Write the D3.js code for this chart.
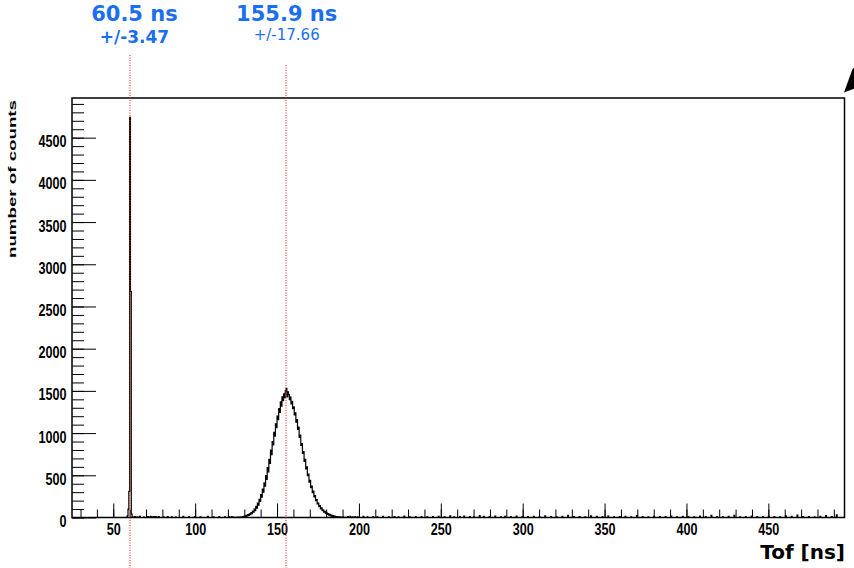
<!DOCTYPE html>
<html>
<head>
<meta charset="utf-8">
<script src="https://cdn.jsdelivr.net/npm/d3@7"></script>
<style>
  html, body { margin: 0; padding: 0; background: #fff; }
  svg { display: block; }
</style>
</head>
<body>
<svg id="chart" width="854" height="568"></svg>
<script>
// histogram binning (ns)
const binWidth = 0.5;
const histStart = 24.5;
const histEnd = 496.5;

// narrow prompt peak around 60 ns
const spikeStart = 58.0;
const spikeCounts = [3, 20, 100, 310, 4740, 2680, 40, 8, 3];

// broad peak, bins of 0.5 ns starting at 124 ns
const peakStart = 124.0;
const peakCounts = [
  1, 0, 3, 1, 4, 2, 6, 3, 9, 5, 12, 8, 17, 11, 24, 16, 33, 24, 44, 35,
  58, 46, 76, 62, 99, 82, 132, 110, 170, 146, 215, 190, 270, 240, 335, 300, 410, 372, 495, 450,
  590, 540, 690, 640, 800, 745, 900, 860, 1010, 965, 1110, 1065, 1200, 1160, 1290, 1245, 1370, 1320, 1430, 1385,
  1465, 1420, 1500, 1530, 1430, 1490, 1455, 1395, 1425, 1345, 1375, 1290, 1310, 1215, 1240, 1130, 1160, 1045, 1070, 950,
  975, 855, 875, 760, 780, 665, 690, 575, 600, 495, 515, 420, 440, 355, 372, 295, 312, 245, 260, 200,
  212, 160, 172, 128, 140, 102, 114, 80, 92, 62, 74, 48, 58, 38, 46, 28, 36, 20, 28, 14,
  22, 10, 16, 8, 12, 5, 9, 4, 7, 3, 5, 2, 4, 1, 2, 1
];

// sparse background counts
const noiseTimes = [
  63.0, 64.5, 66.0, 68.5, 71.0, 72.5, 73.5, 74.5, 75.5, 76.0, 77.5, 80.5, 83.0, 85.5, 88.0, 92.5,
  96.0, 99.5, 103.0, 107.5, 111.0, 114.5, 118.0, 120.5, 122.0, 123.0,
  193.0, 194.5, 196.0, 197.5, 199.0, 202.5, 205.0, 208.5, 211.0, 214.5, 218.0, 221.5, 224.0, 227.5,
  231.0, 234.5, 238.0, 241.5, 245.0, 248.5, 252.0, 255.5, 258.0, 261.5, 264.0, 267.5, 270.0, 273.5,
  276.0, 279.5, 283.0, 286.5, 289.0, 292.5, 296.0, 299.5, 303.0, 306.5, 310.0, 313.5, 317.0, 320.5,
  324.0, 327.5, 331.0, 334.5, 338.0, 341.5, 345.0, 348.5, 352.0, 355.5, 359.0, 362.5, 366.0, 369.5,
  373.0, 376.5, 380.0, 383.5, 387.0, 390.5, 394.0, 397.5, 401.0, 404.5, 408.0, 411.5, 415.0, 418.5,
  422.0, 425.5, 429.0, 432.5, 436.0, 439.5, 443.0, 446.5, 450.0, 453.5, 457.0, 460.5, 464.0, 467.5,
  471.0, 474.5, 478.0, 481.5, 485.0, 488.5, 491.5
];
const noiseCounts = [
  12, 8, 15, 6, 10, 14, 9, 12, 11, 8, 10, 7, 12, 9, 6, 14,
  9, 11, 8, 13, 7, 10, 9, 8, 10, 6,
  10, 14, 8, 12, 9, 15, 8, 11, 7, 13, 9, 10, 8, 16,
  7, 10, 12, 8, 11, 14, 9, 20, 8, 12, 18, 10, 9, 22,
  14, 11, 16, 9, 13, 10, 18, 9, 12, 15, 8, 20, 11, 9,
  14, 26, 10, 12, 8, 19, 13, 10, 17, 9, 12, 14, 8, 22,
  11, 9, 15, 12, 10, 18, 8, 13, 11, 9, 16, 12, 24, 10,
  8, 14, 26, 9, 12, 18, 10, 8, 13, 11, 9, 20, 15, 28,
  10, 12, 9, 14, 22, 11, 30
];

// axes
const xTickMajor = [50, 100, 150, 200, 250, 300, 350, 400, 450];
const yTickMajor = [0, 500, 1000, 1500, 2000, 2500, 3000, 3500, 4000, 4500];
const xLabel = "Tof [ns]";
const yLabel = "number of counts";

// fitted peak positions
const fitMeans = [60.5, 155.9];
const fitErrors = ["3.47", "17.66"];

const svg = d3.select("#chart");
const frame = { left: 72, right: 844.5, top: 98, bottom: 517.5 };

const x = d3.scaleLinear().domain([24.8, 496.5]).range([frame.left, frame.right]);
const y = d3.scaleLinear().domain([0, 4970]).range([frame.bottom, frame.top]);

// build full histogram
const nBins = Math.round((histEnd - histStart) / binWidth);
const counts = new Array(nBins).fill(0);
const setBin = (t, c) => {
  const i = Math.round((t - histStart) / binWidth);
  if (i >= 0 && i < nBins) counts[i] = c;
};
spikeCounts.forEach((c, i) => setBin(spikeStart + i * binWidth, c));
peakCounts.forEach((c, i) => setBin(peakStart + i * binWidth, c));
noiseTimes.forEach((t, i) => setBin(t, noiseCounts[i]));

const pts = [[histStart, 0]];
counts.forEach((c, i) => pts.push([histStart + i * binWidth, c]));
pts.push([histEnd, counts[nBins - 1]]);
pts.push([histEnd, 0]);

svg.append("clipPath").attr("id", "clip")
  .append("rect")
  .attr("x", frame.left).attr("y", frame.top)
  .attr("width", frame.right - frame.left)
  .attr("height", frame.bottom - frame.top);

// ticks (inward, ROOT style)
const tickFont = "'Liberation Sans', Arial, sans-serif";
const DIGIT_W = 7; // narrow helvetica digits

const yMinor = svg.append("g")
  .attr("transform", `translate(${frame.left},0)`)
  .call(d3.axisLeft(y).tickValues(d3.range(0, 4901, 100)).tickSize(-12).tickFormat(""));
const yMajor = svg.append("g")
  .attr("transform", `translate(${frame.left},0)`)
  .call(d3.axisLeft(y).tickValues(yTickMajor).tickSize(-24).tickPadding(5.5).tickFormat(d3.format("d")));
yMajor.selectAll("text").attr("dy", "0.56em");

const xMinor = svg.append("g")
  .attr("transform", `translate(0,${frame.bottom})`)
  .call(d3.axisBottom(x).tickValues(d3.range(30, 491, 10)).tickSize(-8).tickFormat(""));
const xMajor = svg.append("g")
  .attr("transform", `translate(0,${frame.bottom})`)
  .call(d3.axisBottom(x).tickValues(xTickMajor).tickSize(-14).tickPadding(6).tickFormat(d3.format("d")));

[yMinor, yMajor, xMinor, xMajor].forEach(g => {
  g.select(".domain").remove();
  g.selectAll("line").attr("stroke", "#000").attr("stroke-width", 1);
  g.selectAll("text")
    .attr("fill", "#000")
    .attr("textLength", d => String(d).length * DIGIT_W)
    .attr("lengthAdjust", "spacingAndGlyphs")
    .style("font-family", tickFont)
    .style("font-weight", "bold")
    .style("font-size", "16px");
});

// histogram outline
svg.append("path")
  .datum(pts)
  .attr("clip-path", "url(#clip)")
  .attr("fill", "none")
  .attr("stroke", "#000")
  .attr("stroke-width", 1.2)
  .attr("d", d3.line().x(d => x(d[0])).y(d => y(d[1])).curve(d3.curveStepAfter));

// frame
svg.append("rect")
  .attr("x", frame.left).attr("y", frame.top)
  .attr("width", frame.right - frame.left)
  .attr("height", frame.bottom - frame.top)
  .attr("fill", "none")
  .attr("stroke", "#000")
  .attr("stroke-width", 1.5);

// fitted peak markers
const lineTops = [55, 65];
const labelShift = [4, 0];
fitMeans.forEach((m, i) => {
  const lx = Math.floor(x(m));
  svg.append("line")
    .attr("x1", lx).attr("x2", lx)
    .attr("y1", lineTops[i]).attr("y2", 568)
    .attr("stroke", "#ff1a1a")
    .attr("stroke-width", 1)
    .attr("stroke-dasharray", "1,1.5");

  svg.append("text")
    .attr("x", x(m) + labelShift[i]).attr("y", 20.7)
    .attr("text-anchor", "middle")
    .attr("fill", "#1a6ff0")
    .style("font-family", "'DejaVu Sans', Verdana, sans-serif")
    .style("font-weight", "bold")
    .style("font-size", "21px")
    .text(`${m} ns`);

  svg.append("text")
    .attr("x", x(m) + labelShift[i]).attr("y", i === 0 ? 42.7 : 39.5)
    .attr("text-anchor", "middle")
    .attr("fill", "#1a6ff0")
    .style("font-family", "'DejaVu Sans', Verdana, sans-serif")
    .style("font-weight", i === 0 ? "bold" : "normal")
    .style("font-size", i === 0 ? "17px" : "15px")
    .text(`+/-${fitErrors[i]}`);
});

// axis titles
svg.append("text")
  .attr("transform", "translate(15.7,179) rotate(-90)")
  .attr("text-anchor", "middle")
  .attr("textLength", 158)
  .attr("lengthAdjust", "spacingAndGlyphs")
  .style("font-family", "'Liberation Sans', Arial, sans-serif")
  .style("font-weight", "bold")
  .style("font-size", "10px")
  .text(yLabel);

svg.append("text")
  .attr("x", 845).attr("y", 559)
  .attr("text-anchor", "end")
  .style("font-family", "'DejaVu Sans', Verdana, sans-serif")
  .style("font-weight", "bold")
  .style("font-size", "20px")
  .text(xLabel);

// arrow head in the corner
svg.append("path")
  .attr("d", "M844,92.5 L852.5,69 L856,66 L856,88 Z")
  .attr("fill", "#000");
</script>
</body>
</html>
